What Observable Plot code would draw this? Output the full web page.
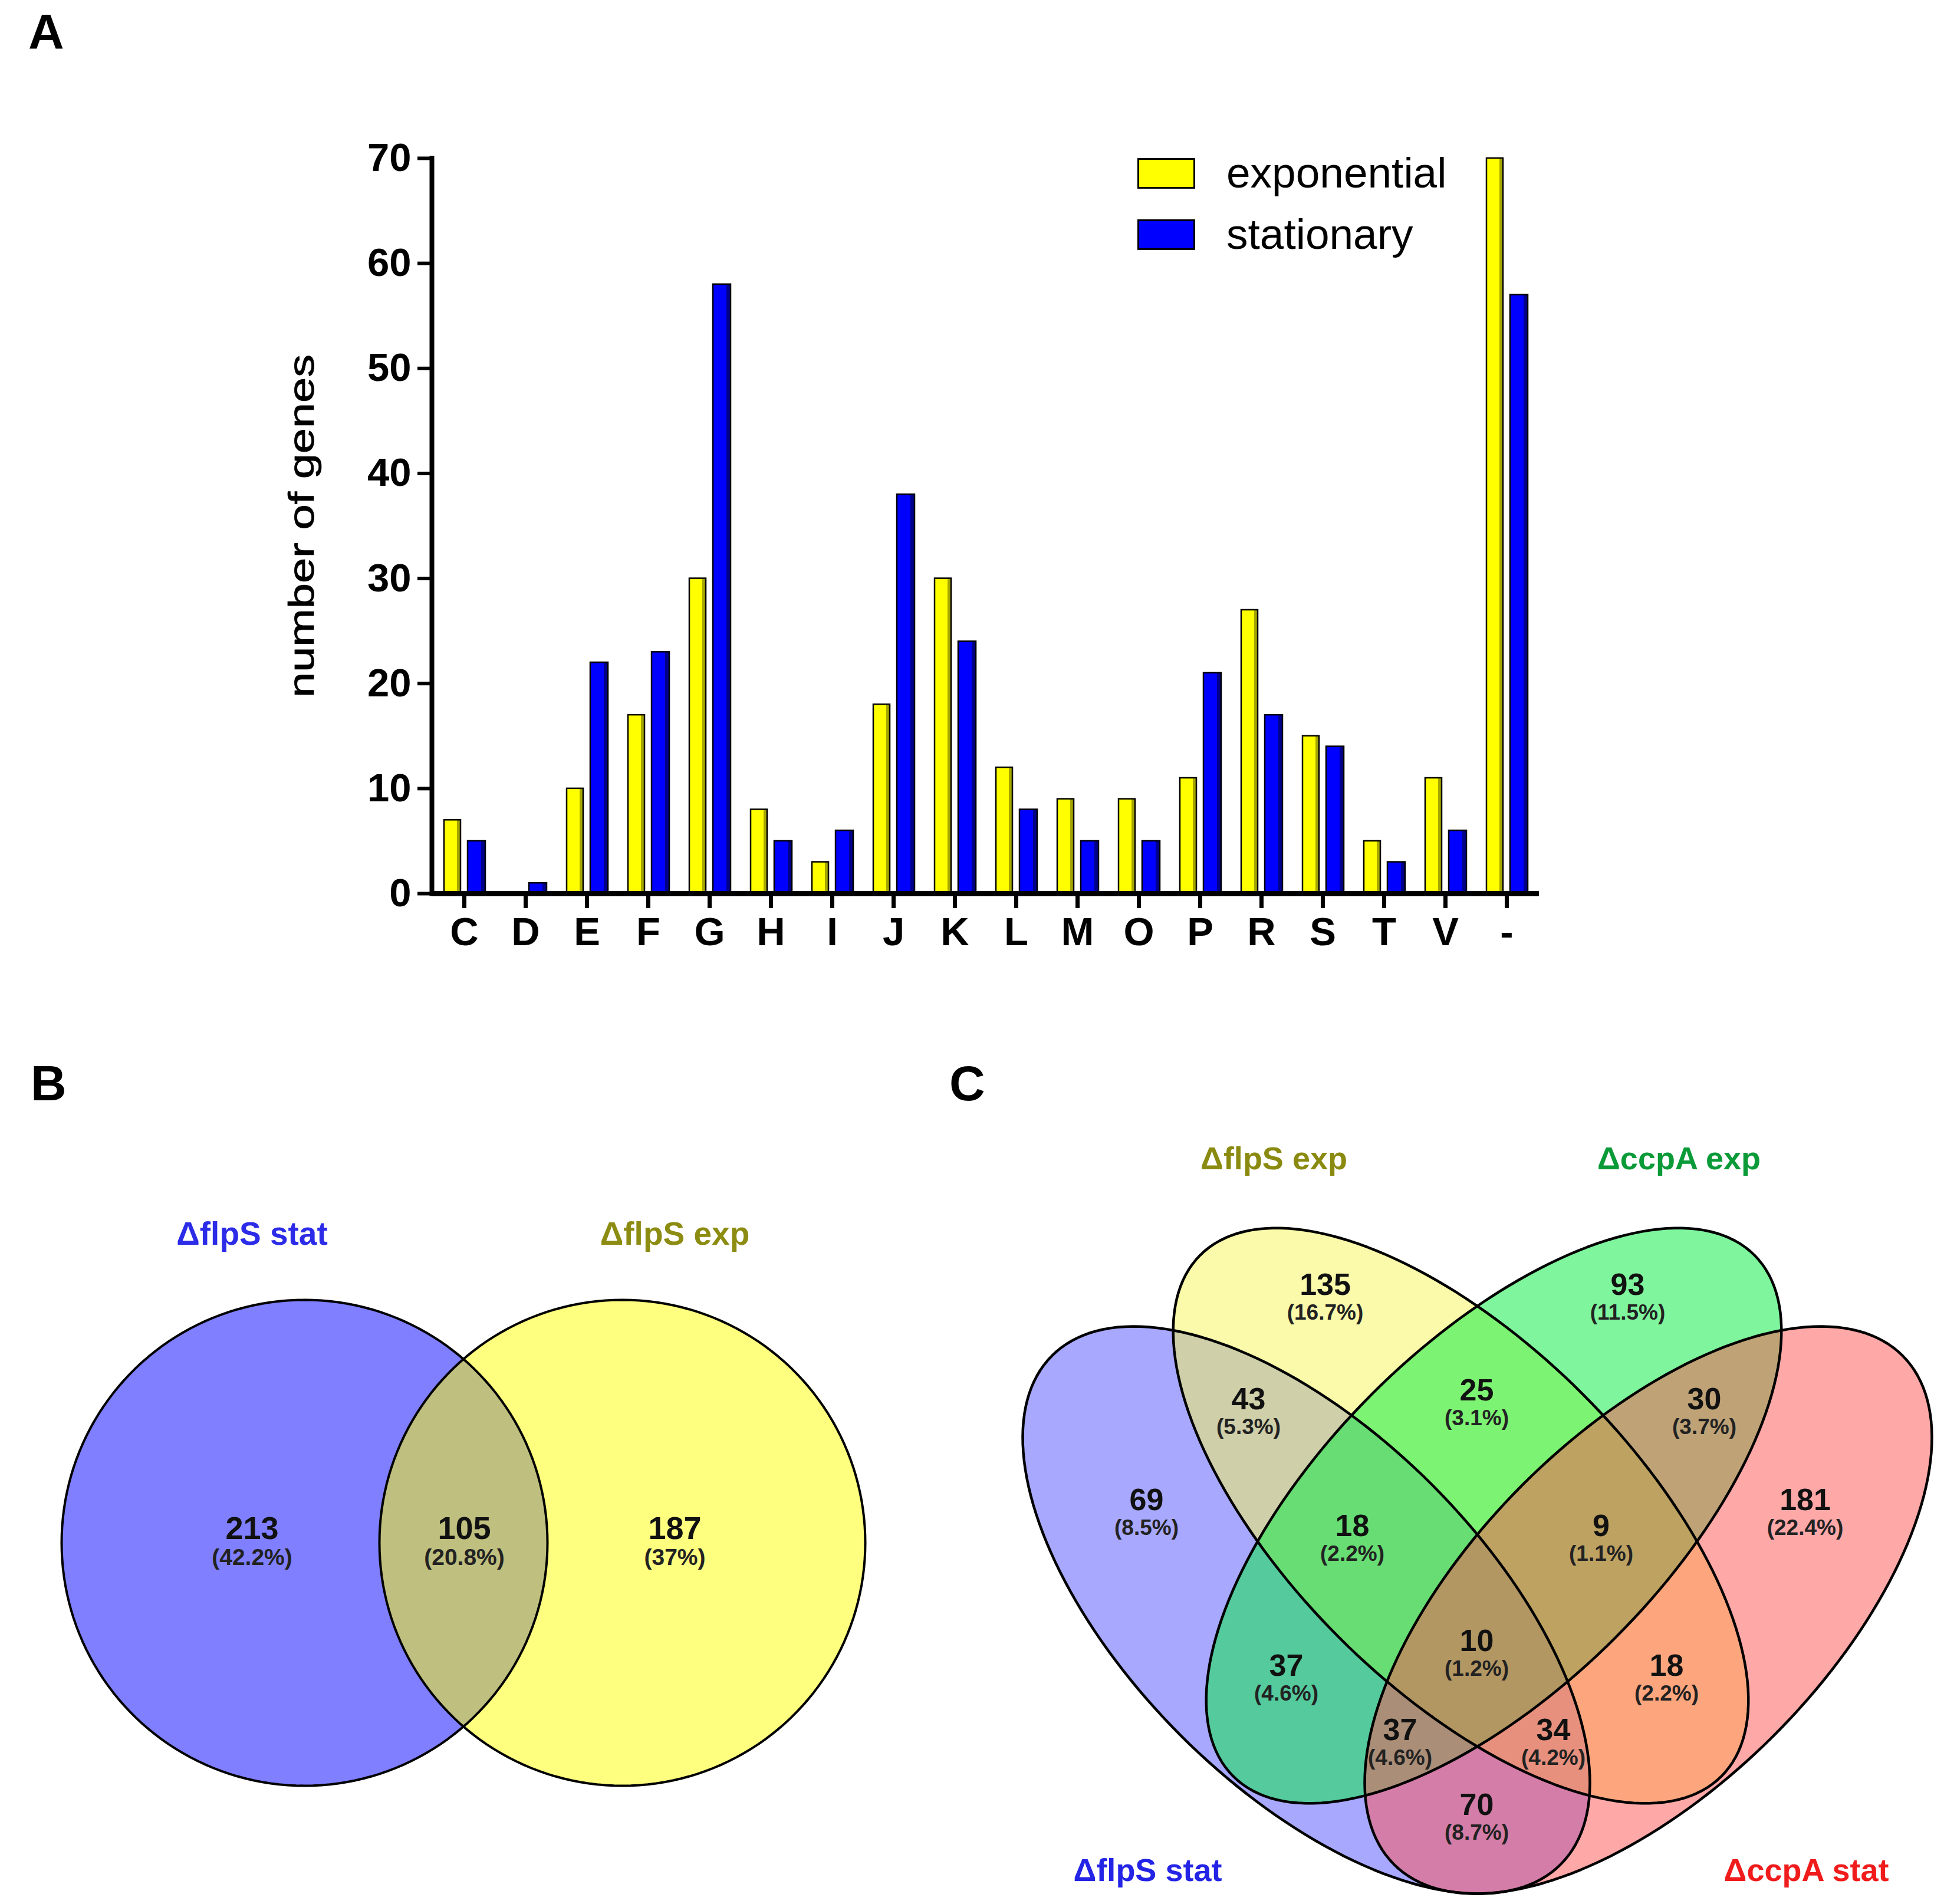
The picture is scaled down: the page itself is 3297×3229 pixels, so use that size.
<!DOCTYPE html>
<html>
<head>
<meta charset="utf-8">
<script src="https://cdn.jsdelivr.net/npm/d3@7"></script>
<script src="https://cdn.jsdelivr.net/npm/@observablehq/plot@0.6"></script>
<style>
  html, body { margin: 0; padding: 0; background: #fff; }
  #page { position: relative; width: 3297px; height: 3229px; overflow: hidden; background: #fff;
          font-family: "Liberation Sans", Arial, sans-serif; }
  .panel { position: absolute; }
  .letter { position: absolute; font-weight: bold; font-size: 84px; line-height: 1; color: #000; }
  .swatch { position: absolute; box-sizing: border-box; border: 3px solid #000; }
  .legtext { position: absolute; font-size: 73px; line-height: 1; color: #000; white-space: nowrap; }
</style>
</head>
<body>
<div id="page"></div>
<script>
// ---------------- Panel A data ----------------
const categories = ["C","D","E","F","G","H","I","J","K","L","M","O","P","R","S","T","V","-"];
const exponential = [7,0,10,17,30,8,3,18,30,12,9,9,11,27,15,5,11,70];
const stationary  = [5,1,22,23,58,5,6,38,24,8,5,5,21,17,14,3,6,57];
const seriesNames = ["exponential","stationary"];
const yTicks = [0,10,20,30,40,50,60,70];
const yLabel = "number of genes";

// ---------------- Panel B data ----------------
const vennBSets = ["ΔflpS stat","ΔflpS exp"];
const vennBCounts = [213,105,187];
const vennBPercents = ["42.2%","20.8%","37%"];

// ---------------- Panel C data ----------------
const vennCSets = ["ΔflpS stat","ΔflpS exp","ΔccpA exp","ΔccpA stat"];
const vennCRegions = ["Y","G","B","R","BY","GR","YG","BYG","YGR","BG","BYGR","YR","BGR","BYR","BR"];
const vennCCounts = [135,93,69,181,43,30,25,18,9,37,10,18,37,34,70];
const vennCPercents = ["16.7%","11.5%","8.5%","22.4%","5.3%","3.7%","3.1%","2.2%","1.1%","4.6%","1.2%","2.2%","4.6%","4.2%","8.7%"];

// ---------------- styles / layout ----------------
const FONT = '"Liberation Sans", Arial, Helvetica, sans-serif';
const seriesFill = ["#ffff00","#0000ff"];
const seriesShade = ["#a6a600","#00008a"];
const vennBColors = ["#0000ff","#ffff00"];
const vennBLabelColors = ["#2b2be8","#8c8c12"];
const vennCColors = ["#5151ff","#f5f555","#00eb3c","#ff5151"];
const vennCLabelColors = ["#2424e6","#8a8a10","#0a9a38","#f01c1c"];

// Venn layout (panel pixel units)
const circlesB = [{cx:516, cy:866, r:412}, {cx:1055, cy:866, r:412}];
const labelPosB = [[427,343],[1144,343]];
const countPosB = [[427,842],[787,842],[1144,842]];

const ellipsesC = [ // blue, yellow, green, red
  {cx:615, cy:980, a:610, b:301, phi:45},
  {cx:877, cy:820, a:625, b:292, phi:45},
  {cx:933, cy:820, a:625, b:292, phi:135},
  {cx:1195, cy:980, a:610, b:301, phi:135}
];
const labelPosC = [[346,1422],[560,215],[1247,215],[1463,1422]];
const countPosC = [[647,429],[1160,429],[344,794],[1461,794],[517,623],[1290,623],[904,608],
                   [693,838],[1115,838],[581,1075],[904,1033],[1226,1075],[774,1184],[1034,1184],[904,1311]];

const page = document.getElementById("page");

function place(el, left, top) {
  el.classList.add("panel");
  el.style.left = left + "px";
  el.style.top = top + "px";
  page.appendChild(el);
}
function addDiv(cls, text, left, baseline, fs) {
  const d = document.createElement("div");
  d.className = cls;
  d.textContent = text;
  d.style.left = left + "px";
  d.style.top = (baseline - 0.8465 * fs) + "px";
  page.appendChild(d);
  return d;
}
function ellipsePoints(e, id) {
  const rad = e.phi * Math.PI / 180;
  return d3.range(0, 360, 2).map(t => {
    const tr = t * Math.PI / 180;
    return {
      id,
      x: e.cx + e.a * Math.cos(tr) * Math.cos(rad) - e.b * Math.sin(tr) * Math.sin(rad),
      y: e.cy + e.a * Math.cos(tr) * Math.sin(rad) + e.b * Math.sin(tr) * Math.cos(rad)
    };
  });
}

// ---------------- Panel A ----------------
const rowsA = categories.flatMap((c, i) => [
  {cat: c, series: seriesNames[0], value: exponential[i]},
  {cat: c, series: seriesNames[1], value: stationary[i]}
]).filter(d => d.value > 0);
const expRows = rowsA.filter(d => d.series === seriesNames[0]);
const statRows = rowsA.filter(d => d.series === seriesNames[1]);

const WA = 2700, HA = 1700;
const plotA = Plot.plot({
  width: WA, height: HA,
  marginLeft: 732, marginRight: WA - 2610, marginTop: 268, marginBottom: HA - 1515,
  x: {domain: categories, padding: 0},
  y: {domain: [0, 70]},
  style: {fontFamily: FONT, background: "transparent", overflow: "visible", color: "#000"},
  marks: [
    Plot.barY(expRows, {x: "cat", y: "value", fill: seriesFill[0], insetLeft: 18, insetRight: 58}),
    Plot.barY(expRows, {x: "cat", y: "value", fill: seriesShade[0], insetLeft: 40, insetRight: 58}),
    Plot.barY(expRows, {x: "cat", y: "value", fill: "none", stroke: "#000", strokeWidth: 2.5, insetLeft: 18, insetRight: 58}),
    Plot.barY(statRows, {x: "cat", y: "value", fill: seriesFill[1], insetLeft: 58, insetRight: 16}),
    Plot.barY(statRows, {x: "cat", y: "value", fill: seriesShade[1], insetLeft: 81, insetRight: 16}),
    Plot.barY(statRows, {x: "cat", y: "value", fill: "none", stroke: "#000", strokeWidth: 2.5, insetLeft: 58, insetRight: 16}),
    Plot.ruleY([0], {stroke: "#000", strokeWidth: 9}),
    Plot.frame({anchor: "left", stroke: "#000", strokeWidth: 8}),
    Plot.axisX({tickSize: 25, strokeWidth: 7, tickPadding: 15, fontSize: 67, fontWeight: "bold", label: null}),
    Plot.axisY({ticks: yTicks, tickSize: 24, strokeWidth: 6, tickPadding: 11, fontSize: 67, fontWeight: "bold", label: null, tickFormat: d => String(d)}),
    Plot.text([yLabel], {frameAnchor: "left", textAnchor: "middle", dx: -220, rotate: -90, fontSize: 62, fill: "#000", stroke: "#000", strokeWidth: 0.8})
  ]
});
// the reference label is drawn with a narrow face stretched along its length
d3.select(plotA).selectAll("text").filter(function () { return this.textContent === yLabel; })
  .attr("textLength", 582).attr("lengthAdjust", "spacingAndGlyphs");
place(plotA, 0, 0);

// legend for panel A
seriesNames.forEach((name, i) => {
  const sw = document.createElement("div");
  sw.className = "swatch";
  sw.style.left = "1929px";
  sw.style.top = (268 + i * 104) + "px";
  sw.style.width = "98px";
  sw.style.height = "52px";
  sw.style.background = seriesFill[i];
  page.appendChild(sw);
  addDiv("legtext", name, 2080, 318 + i * 104, 73);
});

// ---------------- Panel B ----------------
const WB = 1560, HB = 1479;
const ptsB = circlesB.map((c, i) => ellipsePoints({cx: c.cx, cy: c.cy, a: c.r, b: c.r, phi: 0}, i));
const countRowsB = vennBCounts.map((n, i) => ({x: countPosB[i][0], y: countPosB[i][1], n: String(n), p: "(" + vennBPercents[i] + ")"}));
const labelRowsB = vennBSets.map((s, i) => ({x: labelPosB[i][0], y: labelPosB[i][1], s, i}));
const plotB = Plot.plot({
  width: WB, height: HB, margin: 0,
  x: {domain: [0, WB], range: [0, WB], axis: null},
  y: {domain: [0, HB], range: [0, HB], axis: null},
  style: {fontFamily: FONT, background: "transparent", overflow: "visible"},
  marks: [
    ...ptsB.map((p, i) => Plot.line(p, {x: "x", y: "y", curve: "linear-closed", fill: vennBColors[i], fillOpacity: 0.5, stroke: "none"})),
    ...ptsB.map(p => Plot.line(p, {x: "x", y: "y", curve: "linear-closed", fill: "none", stroke: "#000", strokeWidth: 4})),
    Plot.text(countRowsB, {x: "x", y: "y", text: "n", fontSize: 54, fontWeight: "bold", fill: "#111"}),
    Plot.text(countRowsB, {x: "x", y: "y", dy: 49, text: "p", fontSize: 39, fontWeight: "bold", fill: "#222"}),
    ...labelRowsB.map(d => Plot.text([d], {x: "x", y: "y", text: "s", fontSize: 55, fontWeight: "bold", fill: vennBLabelColors[d.i]}))
  ]
});
place(plotB, 0, 1750);

// ---------------- Panel C ----------------
const WC = 1697, HC = 1479;
const ptsC = ellipsesC.map((e, i) => ellipsePoints(e, i));
const countRowsC = vennCCounts.map((n, i) => ({x: countPosC[i][0], y: countPosC[i][1], n: String(n), p: "(" + vennCPercents[i] + ")", r: vennCRegions[i]}));
const labelRowsC = vennCSets.map((s, i) => ({x: labelPosC[i][0], y: labelPosC[i][1], s, i}));
const plotC = Plot.plot({
  width: WC, height: HC, margin: 0,
  x: {domain: [0, WC], range: [0, WC], axis: null},
  y: {domain: [0, HC], range: [0, HC], axis: null},
  style: {fontFamily: FONT, background: "transparent", overflow: "visible"},
  marks: [
    ...ptsC.map((p, i) => Plot.line(p, {x: "x", y: "y", curve: "linear-closed", fill: vennCColors[i], fillOpacity: 0.5, stroke: "none"})),
    ...ptsC.map(p => Plot.line(p, {x: "x", y: "y", curve: "linear-closed", fill: "none", stroke: "#000", strokeWidth: 4.5})),
    Plot.text(countRowsC, {x: "x", y: "y", text: "n", fontSize: 52, fontWeight: "bold", fill: "#111"}),
    Plot.text(countRowsC, {x: "x", y: "y", dy: 47, text: "p", fontSize: 37, fontWeight: "bold", fill: "#222"}),
    ...labelRowsC.map(d => Plot.text([d], {x: "x", y: "y", text: "s", fontSize: 54, fontWeight: "bold", fill: vennCLabelColors[d.i]}))
  ]
});
place(plotC, 1600, 1750);

// panel letters
addDiv("letter", "A", 48, 83, 84);
addDiv("letter", "B", 52, 1866, 84);
addDiv("letter", "C", 1610, 1866, 84);
</script>
</body>
</html>
